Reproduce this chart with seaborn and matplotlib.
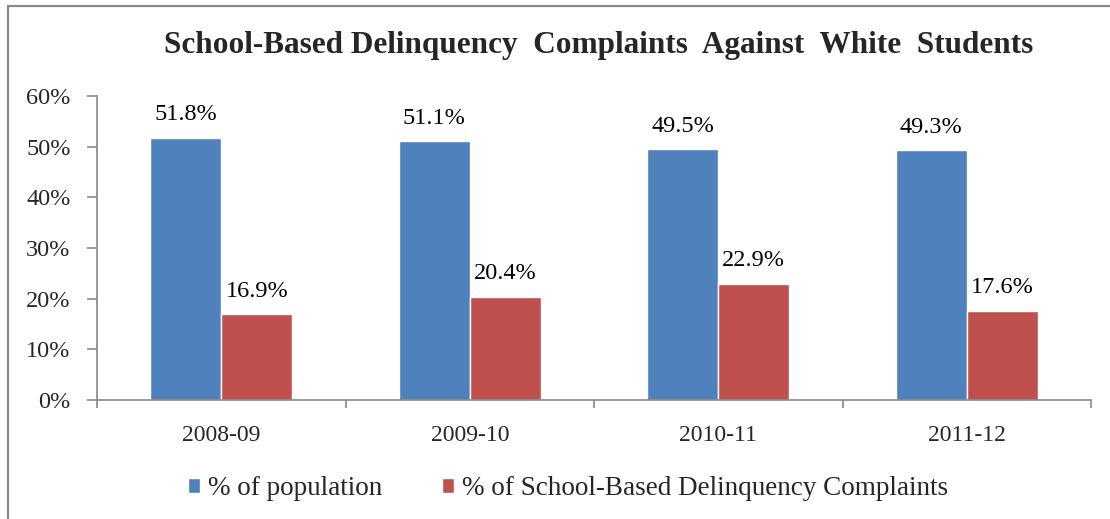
import matplotlib
matplotlib.use("Agg")
import matplotlib.pyplot as plt
from matplotlib.lines import Line2D
from matplotlib.ticker import FixedLocator, PercentFormatter
import seaborn as sns
import pandas as pd

years = ["2008-09", "2009-10", "2010-11", "2011-12"]
pct_population = [51.8, 51.1, 49.5, 49.3]
pct_complaints = [16.9, 20.4, 22.9, 17.6]
series_names = ["% of population", "% of School-Based Delinquency Complaints"]
colors = ["#4F81BD", "#C0504D"]

df = pd.DataFrame({
    "year": years * 2,
    "value": pct_population + pct_complaints,
    "series": [series_names[0]] * 4 + [series_names[1]] * 4,
})

sns.set_theme(style="white")
plt.rcParams["font.family"] = ["Liberation Serif", "DejaVu Serif"]

fig = plt.figure(figsize=(11.1, 5.19), dpi=100)
ax = fig.add_axes([0.0874, 0.2293, 0.8955, 0.5857])

sns.barplot(data=df, x="year", y="value", hue="series", palette=colors,
            width=0.573, gap=0, saturation=1, ax=ax, legend=True)

for cont in ax.containers:
    ax.bar_label(cont, fmt="%.1f%%", padding=9, fontsize=17.5, color="#000000")

ax.set_ylim(0, 60)
ax.set_yticks(range(0, 61, 10))
ax.yaxis.set_major_formatter(PercentFormatter(decimals=0))
ax.set_xlim(-0.5, 3.5)
ax.set_xlabel("")
ax.set_ylabel("")

for s in ["top", "right"]:
    ax.spines[s].set_visible(False)
for s in ["left", "bottom"]:
    ax.spines[s].set_color("#898989")
    ax.spines[s].set_linewidth(1.2)

ax.tick_params(axis="y", which="major", left=True, length=7, width=1.2,
               color="#898989", labelsize=17.5, pad=12)
ax.tick_params(axis="x", which="major", bottom=False, labelsize=17, pad=12)
ax.xaxis.set_minor_locator(FixedLocator([-0.5, 0.5, 1.5, 2.5, 3.5]))
ax.tick_params(axis="x", which="minor", bottom=True, length=6, width=1.2,
               color="#898989", direction="out")

handles, labels = ax.get_legend_handles_labels()
ax.legend_.remove()
fig.legend(handles, labels, loc="center", bbox_to_anchor=(0.512, 0.058),
           ncol=2, frameon=False, fontsize=19.5, handlelength=0.45,
           handleheight=0.45, handletextpad=0.3, columnspacing=2.2)

fig.text(0.539, 0.913, "School-Based Delinquency  Complaints  Against  White  Students",
         ha="center", va="center", fontsize=22.5, fontweight="bold")

# chart-area border (top and left visible)
fig.add_artist(Line2D([8 / 1110, 1.0], [1 - 6 / 519, 1 - 6 / 519],
                      transform=fig.transFigure, color="#8a8a8a", lw=1.6))
fig.add_artist(Line2D([8 / 1110, 8 / 1110], [0.0, 1 - 6 / 519],
                      transform=fig.transFigure, color="#8a8a8a", lw=1.6))

fig.savefig("out.png", dpi=100)
